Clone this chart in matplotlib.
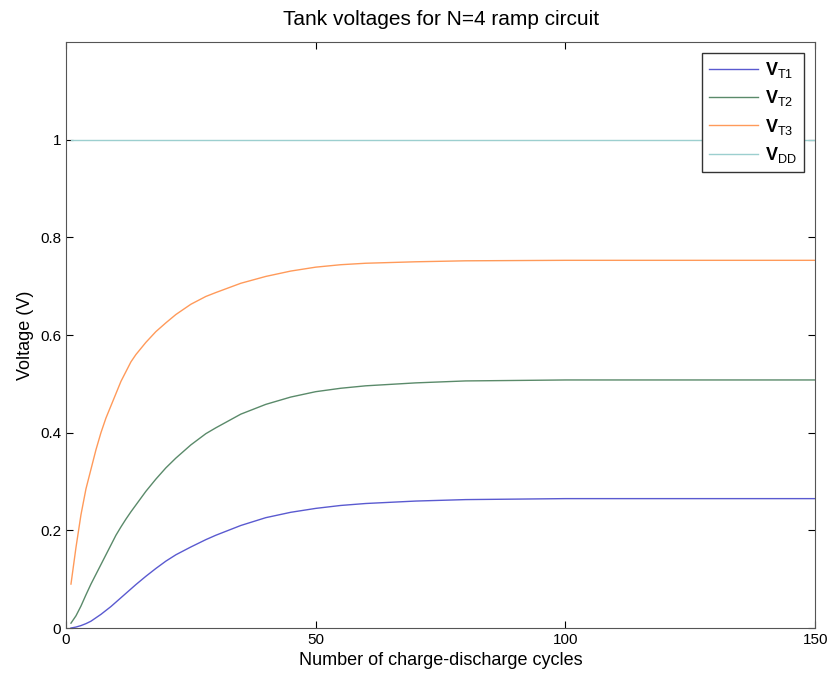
import matplotlib.pyplot as plt

cycles = [1, 2, 3, 4, 5, 6, 7, 8, 9, 10, 11, 12, 13, 14, 16, 18, 20, 22, 25, 28,
          30, 35, 40, 45, 50, 55, 60, 70, 80, 100, 120, 150]

v_t1 = [0.0, 0.002, 0.005, 0.009, 0.014, 0.021, 0.028, 0.036, 0.044, 0.053, 0.062,
        0.071, 0.08, 0.089, 0.106, 0.122, 0.137, 0.15, 0.166, 0.181,
        0.19, 0.21, 0.226, 0.237, 0.245, 0.251, 0.255, 0.26, 0.263, 0.265, 0.265, 0.265]
v_t2 = [0.01, 0.025, 0.045, 0.068, 0.09, 0.11, 0.13, 0.15, 0.17, 0.19, 0.207,
        0.223, 0.238, 0.252, 0.28, 0.305, 0.328, 0.348, 0.375, 0.398,
        0.41, 0.438, 0.458, 0.473, 0.484, 0.491, 0.496, 0.502, 0.506, 0.508, 0.508, 0.508]
v_t3 = [0.09, 0.165, 0.232, 0.285, 0.325, 0.365, 0.4, 0.43, 0.455, 0.48, 0.505,
        0.525, 0.545, 0.56, 0.585, 0.607, 0.625, 0.642, 0.663, 0.679,
        0.687, 0.706, 0.72, 0.731, 0.739, 0.744, 0.747, 0.75, 0.752, 0.753, 0.753, 0.753]
v_dd = [1.0] * len(cycles)

labels = [r'$\mathbf{V}_{\mathrm{T1}}$', r'$\mathbf{V}_{\mathrm{T2}}$',
          r'$\mathbf{V}_{\mathrm{T3}}$', r'$\mathbf{V}_{\mathrm{DD}}$']
colors = ['#5a5ad0', '#5a8a6a', '#ff9a5a', '#9ccfcf']

plt.rcParams['font.family'] = ['Liberation Sans', 'DejaVu Sans']
plt.rcParams['mathtext.fontset'] = 'custom'
plt.rcParams['mathtext.rm'] = 'Liberation Sans'
plt.rcParams['mathtext.bf'] = 'Liberation Sans:bold'

fig = plt.figure(figsize=(8.31, 6.78), dpi=100)
ax = fig.add_axes([0.0794, 0.0737, 0.9016, 0.8643])

for vals, lab, col in zip([v_t1, v_t2, v_t3, v_dd], labels, colors):
    ax.plot(cycles, vals, color=col, linewidth=1.0, label=lab)

ax.set_xlim(0, 150)
ax.set_ylim(0, 1.2)
ax.set_xticks([0, 50, 100, 150])
ax.set_yticks([0, 0.2, 0.4, 0.6, 0.8, 1.0])
ax.set_yticklabels(['0', '0.2', '0.4', '0.6', '0.8', '1'])
ax.tick_params(direction='in', top=True, right=True, labelsize=11, length=5)
for s in ax.spines.values():
    s.set_color('#555555')

ax.set_title('Tank voltages for N=4 ramp circuit', fontsize=15, pad=12)
ax.set_xlabel('Number of charge-discharge cycles', fontsize=13)
ax.set_ylabel('Voltage (V)', fontsize=13)

leg = ax.legend(loc='upper right', fontsize=13, fancybox=False, framealpha=1,
                edgecolor='#333333', handlelength=2.7, handletextpad=0.4,
                borderaxespad=0.6, labelspacing=0.46)
leg.get_frame().set_linewidth(1.0)

fig.savefig('out.png', dpi=100)
